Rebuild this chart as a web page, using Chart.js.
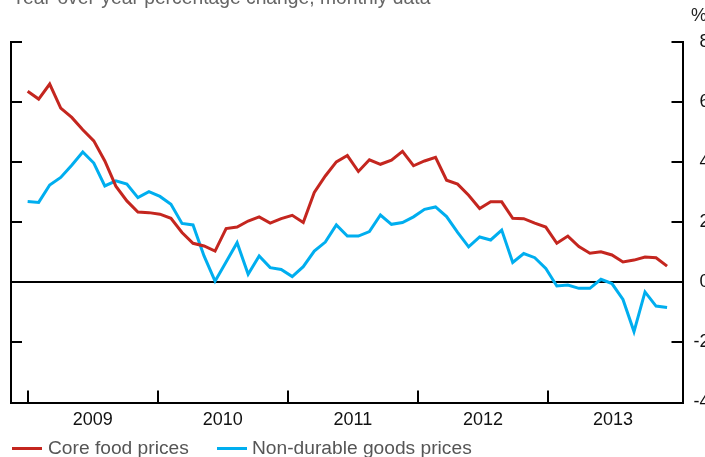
<!DOCTYPE html>
<html>
<head>
<meta charset="utf-8">
<script src="https://cdn.jsdelivr.net/npm/chart.js@4.4.0/dist/chart.umd.min.js"></script>
<style>
    html, body { margin: 0; padding: 0; background: #fff; overflow: hidden; }
    body { width: 705px; height: 457px; position: relative; font-family: "Liberation Sans", Arial, sans-serif; }
    #wrap { position: absolute; left: 0; top: 0; width: 716px; height: 457px; }
    .title { position: absolute; left: 12px; top: -12px; font-size: 19.3px; line-height: 19px; color: #666; white-space: nowrap; }
    .unit { position: absolute; left: 691px; top: 6px; font-size: 18px; line-height: 18px; color: #222; }
    .legend { position: absolute; top: 438px; font-size: 19.2px; line-height: 19px; color: #555; white-space: nowrap; }
    .legend span.key { position: absolute; top: 9px; width: 30px; height: 3px; }
</style>
</head>
<body>
<div id="wrap"><canvas id="foodChart" width="716" height="457"></canvas></div>
<div class="title">Year-over-year percentage change, monthly data</div>
<div class="unit">%</div>
<div class="legend" style="left:12px"><span class="key" style="left:0;background:#c4261f"></span><span style="margin-left:36px">Core food prices</span></div>
<div class="legend" style="left:217px"><span class="key" style="left:0;background:#00aeef"></span><span style="margin-left:35px">Non-durable goods prices</span></div>

<script>
// monthly observations, first one at index 0
const coreFood = [
    6.36, 6.10, 6.60, 5.80, 5.49, 5.08, 4.71, 4.04, 3.20, 2.71,
    2.34, 2.32, 2.27, 2.13, 1.66, 1.30, 1.21, 1.04, 1.79, 1.84,
    2.04, 2.18, 1.97, 2.12, 2.23, 1.99, 2.99, 3.54, 4.01, 4.22,
    3.69, 4.08, 3.93, 4.07, 4.36, 3.88, 4.04, 4.16, 3.40, 3.27,
    2.90, 2.46, 2.68, 2.68, 2.13, 2.12, 1.97, 1.84, 1.30, 1.54,
    1.19, 0.97, 1.02, 0.91, 0.68, 0.74, 0.84, 0.82, 0.54
];
const nonDurable = [
    2.69, 2.66, 3.24, 3.49, 3.90, 4.34, 3.97, 3.21, 3.38, 3.27,
    2.82, 3.02, 2.86, 2.60, 1.96, 1.91, 0.88, 0.04, 0.68, 1.32,
    0.27, 0.88, 0.49, 0.43, 0.19, 0.52, 1.04, 1.34, 1.91, 1.54,
    1.54, 1.69, 2.24, 1.93, 1.99, 2.18, 2.43, 2.51, 2.19, 1.66,
    1.18, 1.51, 1.41, 1.74, 0.66, 0.96, 0.82, 0.46, -0.12, -0.09,
    -0.20, -0.20, 0.10, -0.04, -0.57, -1.64, -0.32, -0.79, -0.84
];
const yearLabels = ['2009', '2010', '2011', '2012', '2013'];
const yearBounds = [0, 11.8, 23.6, 35.4, 47.2];
const yearCentres = [5.9, 17.7, 29.5, 41.3, 53.1];
const yTicks = [-4, -2, 0, 2, 4, 6, 8];

const toPoints = arr => arr.map((v, i) => ({ x: i, y: v }));

// short inward tick marks on the three axis lines
const innerTicks = {
    id: 'innerTicks',
    afterDraw(chart) {
        const c = chart.ctx;
        const a = chart.chartArea;
        const x = chart.scales.x, y = chart.scales.y;
        c.save();
        c.strokeStyle = '#000';
        c.lineWidth = 2;
        c.beginPath();
        yTicks.forEach(v => {
            const py = Math.round(y.getPixelForValue(v));
            c.moveTo(a.left, py); c.lineTo(a.left + 11, py);
            c.moveTo(a.right - 11, py); c.lineTo(a.right, py);
        });
        yearBounds.forEach(v => {
            const px = Math.round(x.getPixelForValue(v));
            c.moveTo(px, a.bottom); c.lineTo(px, a.bottom - 12);
        });
        c.stroke();
        c.restore();
    }
};

new Chart(document.getElementById('foodChart').getContext('2d'), {
    type: 'line',
    data: {
        datasets: [{
            label: 'Core food prices',
            data: toPoints(coreFood),
            borderColor: '#c4261f',
            borderWidth: 3,
            pointRadius: 0,
            tension: 0
        }, {
            label: 'Non-durable goods prices',
            data: toPoints(nonDurable),
            borderColor: '#00aeef',
            borderWidth: 3,
            pointRadius: 0,
            tension: 0
        }]
    },
    options: {
        responsive: false,
        animation: false,
        devicePixelRatio: 1,
        layout: { padding: { top: 42, right: 6.5, bottom: 0, left: 0 } },
        plugins: {
            legend: { display: false },
            tooltip: { enabled: false }
        },
        scales: {
            x: {
                type: 'linear',
                min: -1.51,
                max: 59.4,
                border: { color: '#000', width: 2 },
                grid: { display: false, drawTicks: false },
                afterBuildTicks: s => { s.ticks = yearCentres.map(v => ({ value: v })); },
                afterFit: s => { s.height = 54.5; },
                ticks: {
                    autoSkip: false,
                    maxRotation: 0,
                    padding: 7,
                    color: '#111',
                    font: { family: 'Liberation Sans', size: 18 },
                    callback: (v, i) => yearLabels[i]
                }
            },
            y: {
                position: 'right',
                min: -4,
                max: 8,
                border: { color: '#000', width: 2 },
                grid: {
                    drawTicks: false,
                    lineWidth: 2,
                    color: ctx => ctx.tick && ctx.tick.value === 0 ? '#000' : 'rgba(0,0,0,0)'
                },
                afterBuildTicks: s => { s.ticks = yTicks.map(v => ({ value: v })); },
                afterFit: s => { s.width = 27; },
                ticks: {
                    crossAlign: 'far',
                    color: '#111',
                    font: { family: 'Liberation Sans', size: 18 }
                }
            },
            yLeft: {
                position: 'left',
                min: -4,
                max: 8,
                border: { color: '#000', width: 2 },
                grid: { display: false, drawTicks: false },
                ticks: { display: false },
                afterFit: s => { s.width = 11; }
            }
        }
    },
    plugins: [innerTicks]
});
</script>
</body>
</html>
